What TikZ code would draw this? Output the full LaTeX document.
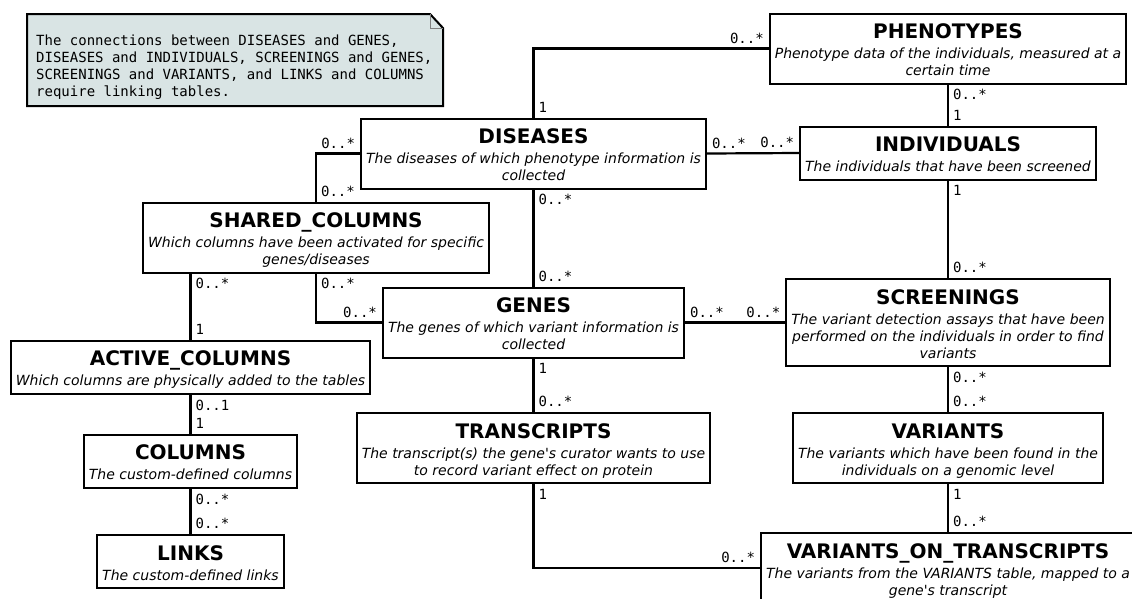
\documentclass[tikz,border=0pt]{standalone}
\usepackage{fontspec}
\setmainfont{DejaVu Sans}[Ligatures = TeXOff, ItalicFont = DejaVu Sans Oblique,
  BoldFont = DejaVu Sans Bold, BoldItalicFont = DejaVu Sans Bold Oblique]
\setmonofont{DejaVu Sans Mono}
\definecolor{notefill}{RGB}{217,228,228}
\newcommand{\tbltitle}[1]{{\fontsize{20}{17}\selectfont\bfseries\upshape\vrule width 0pt height 20pt depth 0pt #1}\\[3pt]}
\newcommand{\tblend}{\vrule width 0pt height 0pt depth 3pt}

\begin{document}
\begin{tikzpicture}[x = 1pt, y = -1pt,
    tbl/.style = {draw, line width = 2pt, align = center, inner xsep = 5pt, inner ysep = 5pt,
      font = \fontsize{14}{17}\selectfont\itshape},
    card/.style = {font = \fontsize{14}{14}\selectfont\ttfamily, inner sep = 4pt},
    link/.style = {line width = 2.2pt},
    notetxt/.style = {align = left, inner sep = 0pt, font = \fontsize{14}{17}\selectfont\ttfamily}]
	\useasboundingbox (0,0) rectangle (1132,598);
	\clip (0,0) rectangle (1132,598);

	% note
	\filldraw [fill = notefill, line width = 2pt] (27,14) -- (430,14) -- (443,28) -- (443,106) -- (27,106) -- cycle;
	\draw [thin, gray] (430,14) -- (430,28) -- (443,28);
	\node (note) [notetxt, anchor = north west] at (36,35) {The connections between DISEASES and GENES,\\DISEASES and INDIVIDUALS, SCREENINGS and GENES,\\SCREENINGS and VARIANTS, and LINKS and COLUMNS\\require linking tables.};

	% tables
	\node (phe) [tbl] at (948,48.5) {\tbltitle{PHENOTYPES}Phenotype data of the individuals, measured at a\\certain time\tblend};
	\node (dis) [tbl] at (533.5,153.5) {\tbltitle{DISEASES}The diseases of which phenotype information is\\collected\tblend};
	\node (ind) [tbl] at (948,153) {\tbltitle{INDIVIDUALS}The individuals that have been screened\tblend};
	\node (shc) [tbl] at (316,237.5) {\tbltitle{SHARED\_COLUMNS}Which columns have been activated for specific\\genes/diseases\tblend};
	\node (gen) [tbl] at (533.5,322.5) {\tbltitle{GENES}The genes of which variant information is\\collected\tblend};
	\node (scr) [tbl] at (948,322.5) {\tbltitle{SCREENINGS}The variant detection assays that have been\\performed on the individuals in order to find\\variants\tblend};
	\node (act) [tbl] at (190.5,367) {\tbltitle{ACTIVE\_COLUMNS}Which columns are physically added to the tables\tblend};
	\node (col) [tbl] at (190.5,461) {\tbltitle{COLUMNS}The custom-defined columns\tblend};
	\node (lnk) [tbl] at (190.5,561.5) {\tbltitle{LINKS}The custom-defined links\tblend};
	\node (trn) [tbl] at (533.5,448) {\tbltitle{TRANSCRIPTS}The transcript(s) the gene's curator wants to use\\to record variant effect on protein\tblend};
	\node (var) [tbl] at (948,448) {\tbltitle{VARIANTS}The variants which have been found in the\\individuals on a genomic level\tblend};
	\node (vot) [tbl] at (948,568) {\tbltitle{VARIANTS\_ON\_TRANSCRIPTS}The variants from the VARIANTS table, mapped to a\\gene's transcript\tblend};

	% links
	\draw [link] (dis.north) |- (phe.west) node [card, pos = 0, anchor = south west] {1} node [card, pos = 1, anchor = south east] {0..*};
	\draw [link] (phe.south) -- (ind.north) node [card, pos = 0, anchor = north west] {0..*} node [card, pos = 1, anchor = south west] {1};
	\draw [link] (dis.east) -- (ind.west) node [card, pos = 0, anchor = south west] {0..*} node [card, pos = 1, anchor = south east] {0..*};
	\draw [link] (dis.west) -| (shc.north) node [card, pos = 0, anchor = south east] {0..*} node [card, pos = 1, anchor = south west] {0..*};
	\draw [link] (dis.south) -- (gen.north) node [card, pos = 0, anchor = north west] {0..*} node [card, pos = 1, anchor = south west] {0..*};
	\draw [link] (ind.south) -- (scr.north) node [card, pos = 0, anchor = north west] {1} node [card, pos = 1, anchor = south west] {0..*};
	\draw [link] (gen.east) -- (scr.west) node [card, pos = 0, anchor = south west] {0..*} node [card, pos = 1, anchor = south east] {0..*};
	\draw [link] (shc.south) |- (gen.west) node [card, pos = 0, anchor = north west] {0..*} node [card, pos = 1, anchor = south east] {0..*};
	\draw [link] (shc.south -| act.north) -- (act.north) node [card, pos = 0, anchor = north west] {0..*} node [card, pos = 1, anchor = south west] {1};
	\draw [link] (act.south) -- (col.north) node [card, pos = 0, anchor = north west] {0..1} node [card, pos = 1, anchor = south west] {1};
	\draw [link] (col.south) -- (lnk.north) node [card, pos = 0, anchor = north west] {0..*} node [card, pos = 1, anchor = south west] {0..*};
	\draw [link] (gen.south) -- (trn.north) node [card, pos = 0, anchor = north west] {1} node [card, pos = 1, anchor = south west] {0..*};
	\draw [link] (scr.south) -- (var.north) node [card, pos = 0, anchor = north west] {0..*} node [card, pos = 1, anchor = south west] {0..*};
	\draw [link] (var.south) -- (vot.north) node [card, pos = 0, anchor = north west] {1} node [card, pos = 1, anchor = south west] {0..*};
	\draw [link] (trn.south) |- (vot.west) node [card, pos = 0, anchor = north west] {1} node [card, pos = 1, anchor = south east] {0..*};
\end{tikzpicture}
\end{document}
